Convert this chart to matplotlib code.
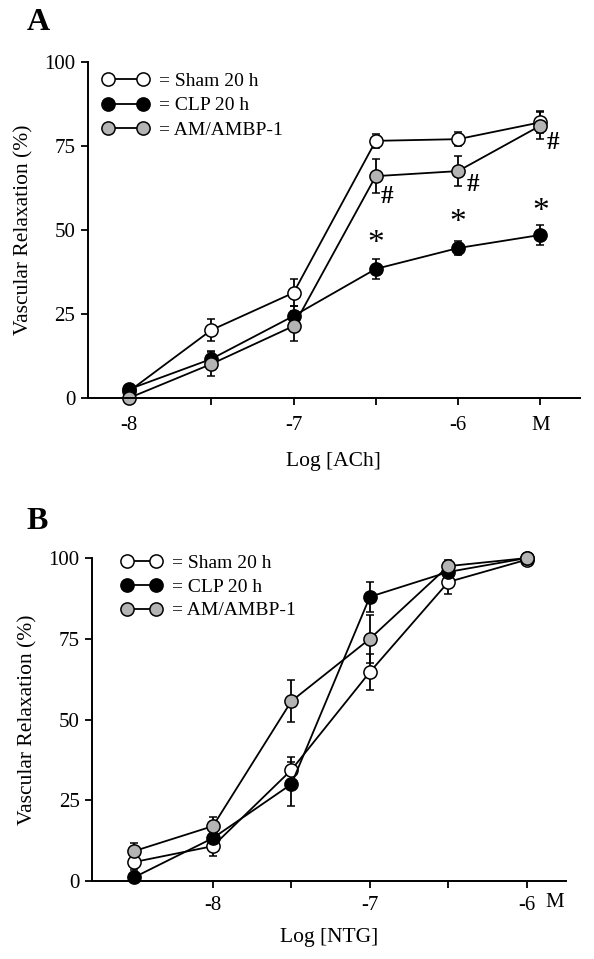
import numpy as np
import matplotlib
matplotlib.use('Agg')
import matplotlib.pyplot as plt
from matplotlib.lines import Line2D

plt.rcParams['font.family'] = ['Liberation Serif', 'DejaVu Serif']

# panel A: ACh dose (log M), last point is the "M" tick
dose_a = [-8, -7.5, -7, -6.5, -6, -5.5]
sham_a = [2, 20.2, 31.3, 76.5, 77, 82]
sham_a_err = [1, 3.3, 4, 2, 2, 3.3]
clp_a = [2.6, 11.6, 24.4, 38.4, 44.6, 48.5]
clp_a_err = [1, 2.5, 3, 3, 2.2, 3]
amb_a = [0, 10.1, 21.4, 66, 67.5, 81]
amb_a_err = [0.5, 3.6, 4.4, 5, 4.5, 4]
ticks_a = [-8, -7.5, -7, -6.5, -6, -5.5]
ticklabels_a = ['-8', '', '-7', '', '-6', 'M']

# annotation marks for panel A (x, y)
hash_a = [(-6.43, 60), (-5.91, 63.5), (-5.42, 76)]
star_a = [(-6.5, 46), (-6, 52), (-5.5, 55.5)]

# panel B: NTG dose (log M)
dose_b = [-8.5, -8, -7.5, -7, -6.5, -6]
sham_b = [5.9, 10.8, 34.4, 64.7, 92.6, 99.5]
sham_b_err = [2.5, 3, 4, 5.7, 3.7, 1]
clp_b = [1.2, 13.3, 30, 88, 95.7, 100]
clp_b_err = [1, 2, 6.8, 4.6, 2, 0.5]
amb_b = [9.3, 17, 55.7, 75, 97.5, 100]
amb_b_err = [2.5, 2.8, 6.5, 7.5, 2, 1]
ticks_b = [-8, -7.5, -7, -6.5, -6]
ticklabels_b = ['-8', '', '-7', '', '-6']

labels = ['= Sham 20 h', '= CLP 20 h', '= AM/AMBP-1']
faces = ['white', 'black', '#b4b4b4']

fig = plt.figure(figsize=(5.94, 9.59), dpi=100)
ax_a = fig.add_axes([0.148, 0.585, 0.828, 0.3505])
ax_b = fig.add_axes([0.155, 0.0813, 0.798, 0.3368])


def draw_panel(ax, x, series, errs, pad):
    for y, e, fc in zip(series, errs, faces):
        ax.errorbar(x, y, yerr=e, color='black', lw=1.3, elinewidth=1.3,
                    capsize=3, capthick=1.3, marker='o', ms=9.5,
                    mfc=fc, mec='black', mew=1.1, clip_on=False)
    for s in ['top', 'right']:
        ax.spines[s].set_visible(False)
    for s in ['left', 'bottom']:
        ax.spines[s].set_linewidth(1.4)
    ax.set_ylim(0, 100)
    ax.set_yticks([0, 25, 50, 75, 100])
    ax.tick_params(direction='out', length=5, width=1.3, labelsize=15, pad=4)
    ax.tick_params(axis='x', pad=pad)
    ax.set_ylabel('Vascular Relaxation (%)', fontsize=15.5, labelpad=8)
    handles = [Line2D([0], [0], color='black', lw=1.3, marker='o', ms=9.5,
                      mfc=fc, mec='black', mew=1.1) for fc in faces]
    return handles


h = draw_panel(ax_a, dose_a, [sham_a, clp_a, amb_a], [sham_a_err, clp_a_err, amb_a_err], 8)
ax_a.set_xlim(-8.25, -5.26)
ax_a.set_xticks(ticks_a)
ax_a.set_xticklabels(ticklabels_a)
ax_a.set_xlabel('Log [ACh]', fontsize=15.5, labelpad=12)
ax_a.legend(h, labels, numpoints=2, frameon=False, fontsize=14,
            handlelength=2.4, handletextpad=0.57, labelspacing=0.37,
            borderpad=0, loc='upper left', bbox_to_anchor=(0.028, 0.97),
            borderaxespad=0)
for x, y in hash_a:
    ax_a.text(x, y, '#', fontsize=18, fontweight='bold', ha='center', va='center')
for x, y in star_a:
    ax_a.text(x, y, '*', fontsize=24, ha='center', va='center')
fig.text(0.045, 0.977, 'A', fontsize=23, fontweight='bold', va='center')

h = draw_panel(ax_b, dose_b, [sham_b, clp_b, amb_b], [sham_b_err, clp_b_err, amb_b_err], 6)
ax_b.set_xlim(-8.77, -5.75)
ax_b.set_xticks(ticks_b)
ax_b.set_xticklabels(ticklabels_b)
ax_b.text(-5.82, -0.068, 'M', fontsize=15, ha='center', va='center',
          transform=ax_b.get_xaxis_transform())
ax_b.set_xlabel('Log [NTG]', fontsize=15.5, labelpad=9)
ax_b.legend(h, labels, numpoints=2, frameon=False, fontsize=14,
            handlelength=2.1, handletextpad=0.52, labelspacing=0.32,
            borderpad=0, loc='upper left', bbox_to_anchor=(0.062, 1.012),
            borderaxespad=0)
fig.text(0.045, 0.456, 'B', fontsize=23, fontweight='bold', va='center')

fig.savefig('out.png', dpi=100)
